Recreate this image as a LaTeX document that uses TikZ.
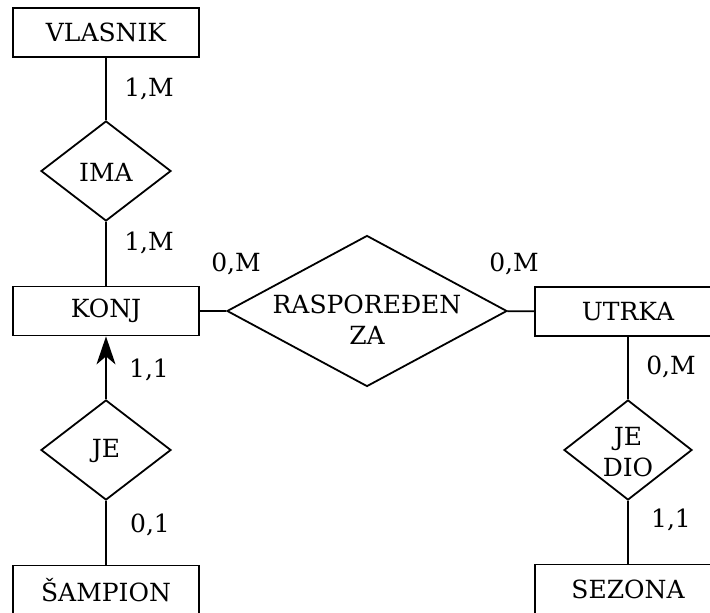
\documentclass[tikz,border=0pt]{standalone}
\usepackage{fontspec}
\setmainfont{DejaVu Serif}
\usetikzlibrary{shapes.geometric,arrows.meta}
\begin{document}
\begin{tikzpicture}[x=1pt,y=-1pt,
  every node/.style={font=\fontsize{25}{31}\selectfont},
  entity/.style={draw, line width=1.8pt, rectangle, minimum width=186pt, minimum height=49pt, inner sep=0pt},
  rel/.style={draw, line width=1.8pt, diamond, inner sep=0pt},
  conn/.style={line width=1.8pt},
  card/.style={inner sep=0pt}]
\useasboundingbox (0,0) rectangle (710,613);
\clip (0,0) rectangle (710,613);
% entities
\node[entity] (vlasnik) at (106,32.5) {VLASNIK};
\node[entity] (konj) at (106,311) {KONJ};
\node[entity] (utrka) at (628,311.5) {UTRKA};
\node[entity] (sampion) at (106,590) {ŠAMPION};
\node[entity] (sezona) at (628,589) {SEZONA};
% relationships
\node[rel, minimum width=130pt, minimum height=100pt] (ima) at (106,171) {};
\node (imat) at (106,172) {IMA};
\node[rel, minimum width=280pt, minimum height=151pt] (raspo) at (367,311) {};
\node[align=center] (raspot) at (367,319.5) {RASPOREĐEN\\ZA};
\node[rel, minimum width=130pt, minimum height=100pt] (je) at (106,450) {};
\node (jet) at (106,450.5) {JE};
\node[rel, minimum width=128pt, minimum height=100pt] (jedio) at (628,450) {};
\node[align=center] (jediot) at (628,452) {JE\\DIO};
% connectors
\draw[conn] (vlasnik) -- (ima);
\draw[conn] (ima) -- (konj);
\draw[conn] (konj) -- (raspo);
\draw[conn] (raspo) -- (utrka);
\draw[conn, -{Stealth[length=28pt,width=19pt,inset=8pt]}] (je.north) -- (konj.south);
\draw[conn] (je) -- (sampion);
\draw[conn] (utrka) -- (jedio);
\draw[conn] (jedio) -- (sezona);
% cardinalities
\node[card] (c1) at (149,89) {1,M};
\node[card] (c2) at (149,243) {1,M};
\node[card] (c3) at (236,264) {0,M};
\node[card] (c4) at (514,264) {0,M};
\node[card] (c5) at (149,370) {1,1};
\node[card] (c6) at (150,525) {0,1};
\node[card] (c7) at (671,367) {0,M};
\node[card] (c8) at (671,520) {1,1};
\end{tikzpicture}
\end{document}
